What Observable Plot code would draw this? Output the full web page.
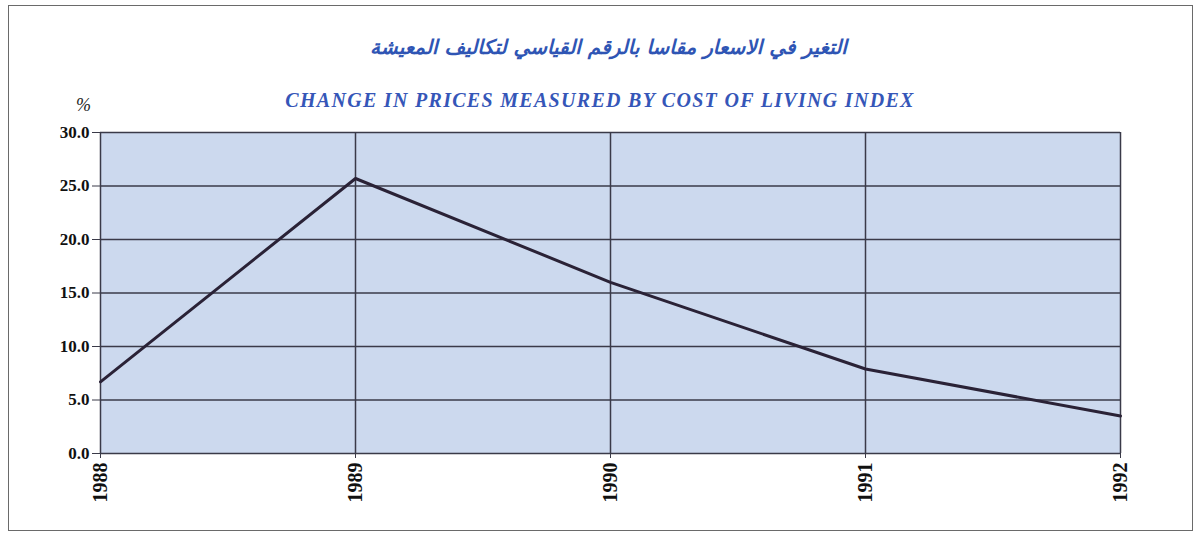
<!DOCTYPE html>
<html>
<head>
<meta charset="utf-8">
<script src="https://cdn.jsdelivr.net/npm/d3@7"></script>
<script src="https://cdn.jsdelivr.net/npm/@observablehq/plot@0.6"></script>
<style>
  html, body { margin: 0; padding: 0; background: #fff; }
  #wrap { position: relative; width: 1197px; height: 537px; overflow: hidden; }
  #border { position: absolute; left: 8px; top: 5px; width: 1185px; height: 526px; border: 1.5px solid #6a6a6a; box-sizing: border-box; }
  .title-ar { position: absolute; left: 0; width: 1217px; top: 35px; text-align: center; direction: rtl;
    font-family: "DejaVu Sans", sans-serif; font-weight: bold; font-style: italic; font-size: 20px; color: #2f55b4; }
  .title-en { position: absolute; left: 0; width: 1200px; top: 89px; text-align: center; letter-spacing: 1.3px;
    font-family: "Liberation Serif", "Times New Roman", serif; font-weight: bold; font-style: italic; font-size: 20px; color: #3556b8; }
  .pct { position: absolute; left: 76px; top: 95px; font-family: "Liberation Serif", serif; font-style: italic; font-size: 18px; color: #222; }
  svg { position: absolute; left: 0; top: 0; }
</style>
</head>
<body>
<div id="wrap">
  <div id="border"></div>
  <div class="title-ar">التغير في الاسعار مقاسا بالرقم القياسي لتكاليف المعيشة</div>
  <div class="title-en">CHANGE IN PRICES MEASURED BY COST OF LIVING INDEX</div>
  <div class="pct">%</div>
</div>
<script>
const years = [1988, 1989, 1990, 1991, 1992];
const changes = [6.7, 25.7, 16.0, 7.9, 3.5];
const yTicks = [0, 5, 10, 15, 20, 25, 30];

const data = years.map((y, i) => ({year: y, value: changes[i]}));

const chart = Plot.plot({
  width: 1197,
  height: 537,
  marginTop: 132,
  marginBottom: 84,
  marginLeft: 100,
  marginRight: 77,
  style: {background: "transparent", fontFamily: "Liberation Serif, Times New Roman, serif"},
  x: {domain: [1988, 1992], ticks: years, tickFormat: d => String(d), label: null},
  y: {domain: [0, 30], ticks: yTicks, tickFormat: d3.format(".1f"), label: null},
  marks: [
    Plot.frame({fill: "#ccd9ee", stroke: null}),
    Plot.ruleY(yTicks, {stroke: "#3a3a48", strokeWidth: 1.5}),
    Plot.ruleX(years, {stroke: "#3a3a48", strokeWidth: 1.5}),
    Plot.axisY({ticks: yTicks, tickFormat: d3.format(".1f"), tickSize: 8, tickPadding: 3,
      fontSize: 17, fontWeight: "bold", fill: "#111", stroke: "#3a3a48", label: null}),
    Plot.axisX({ticks: years, tickFormat: d => String(d), tickSize: 5, tickPadding: 4,
      tickRotate: -90, fontSize: 20, fontWeight: "bold", fill: "#111", stroke: "#3a3a48", label: null}),
    Plot.line(data, {x: "year", y: "value", stroke: "#2a2236", strokeWidth: 3})
  ]
});
document.getElementById("wrap").appendChild(chart);
</script>
</body>
</html>
